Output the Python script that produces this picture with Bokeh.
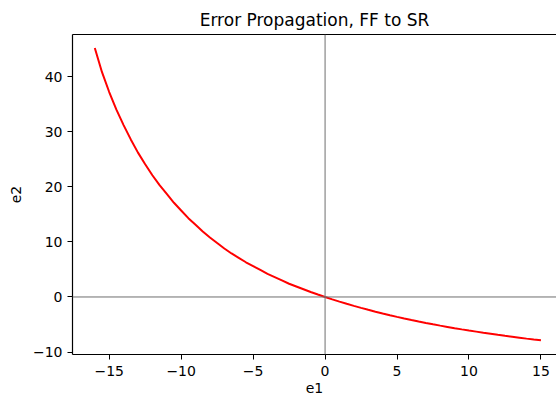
from bokeh.plotting import figure
from bokeh.models import Span, LinearAxis, FixedTicker, Range1d
from bokeh.embed import file_html
from bokeh.resources import INLINE

# Data
e1 = [-16, -15.5, -15, -14.5, -14, -13.5, -13, -12.5, -12, -11.5, -11, -10.5,
      -10, -9.5, -9, -8.5, -8, -7.5, -7, -6.5, -6, -5.5, -5, -4.5,
      -4, -3.5, -3, -2.5, -2, -1.5, -1, -0.5, 0, 0.5, 1, 1.5,
      2, 2.5, 3, 3.5, 4, 4.5, 5, 5.5, 6, 6.5, 7, 7.5,
      8, 8.5, 9, 9.5, 10, 10.5, 11, 11.5, 12, 12.5, 13, 13.5,
      14, 14.5, 15]
e2 = [45.2, 40.8, 37.2, 34.0, 31.2, 28.6, 26.2, 24.1, 22.1, 20.3, 18.7, 17.1,
      15.7, 14.3, 13.1, 11.9, 10.8, 9.8, 8.8, 7.9, 7.1, 6.3, 5.6, 4.9,
      4.2, 3.6, 3.0, 2.4, 1.9, 1.4, 0.9, 0.44, 0.0, -0.43, -0.84, -1.24,
      -1.62, -1.98, -2.33, -2.67, -3.0, -3.31, -3.61, -3.9, -4.18, -4.45, -4.71, -4.96,
      -5.2, -5.43, -5.66, -5.88, -6.09, -6.29, -6.49, -6.68, -6.87, -7.05, -7.22, -7.39,
      -7.56, -7.72, -7.87]

x_ticks = [-15, -10, -5, 0, 5, 10, 15]
x_tick_labels = ["\u221215", "\u221210", "\u22125", "0", "5", "10", "15"]
y_ticks = [-10, 0, 10, 20, 30, 40]
y_tick_labels = ["\u221210", "0", "10", "20", "30", "40"]

title = "Error Propagation, FF to SR"
x_label = "e1"
y_label = "e2"

FONT = "DejaVu Sans"

p = figure(width=556, height=396, output_backend="svg", toolbar_location=None,
           x_range=Range1d(-17.55, 16.08), y_range=Range1d(-10.44, 47.64),
           min_border_left=72, min_border_right=0, min_border_top=34,
           min_border_bottom=42, title=title)
p.outline_line_color = None
p.grid.visible = False
p.background_fill_color = "white"
p.border_fill_color = "white"

p.title.text_font = FONT
p.title.text_font_size = "17px"
p.title.text_font_style = "normal"
p.title.text_color = "black"
p.title.align = "center"

for ax, ticks, labels, lab in ((p.xaxis[0], x_ticks, x_tick_labels, x_label),
                               (p.yaxis[0], y_ticks, y_tick_labels, y_label)):
    ax.ticker = FixedTicker(ticks=ticks)
    ax.major_label_overrides = {t: l for t, l in zip(ticks, labels)}
    ax.minor_tick_line_color = None
    ax.major_tick_in = 0
    ax.major_tick_out = 5
    ax.major_tick_line_width = 1
    ax.axis_line_width = 1.2
    ax.axis_line_color = "black"
    ax.major_tick_line_color = "black"
    ax.major_label_text_font = FONT
    ax.major_label_text_font_size = "14px"
    ax.major_label_text_color = "black"
    ax.axis_label = lab
    ax.axis_label_text_font = FONT
    ax.axis_label_text_font_size = "14px"
    ax.axis_label_text_font_style = "normal"
    ax.axis_label_text_color = "black"

p.yaxis[0].major_label_standoff = 5
p.yaxis[0].axis_label_standoff = 9
p.xaxis[0].major_label_standoff = 6
p.xaxis[0].axis_label_standoff = 4

top = LinearAxis(ticker=FixedTicker(ticks=[]), axis_line_color="black",
                 axis_line_width=1.2, major_tick_line_color=None,
                 minor_tick_line_color=None, major_label_text_font_size="0px")
p.add_layout(top, "above")

p.add_layout(Span(location=0, dimension="width", line_color="#6e6e6e", line_width=1))
p.add_layout(Span(location=0, dimension="height", line_color="#6e6e6e", line_width=1))

p.line(e1, e2, line_color="red", line_width=2)

open("out.html", "w").write(file_html(p, INLINE))
